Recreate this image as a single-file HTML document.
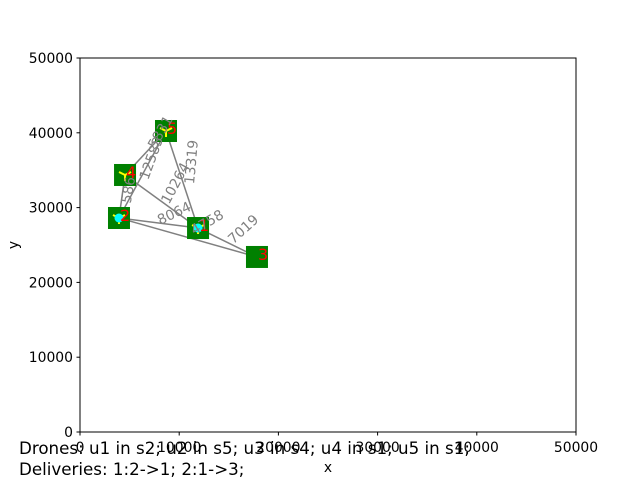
<!DOCTYPE html>
<html><head><meta charset="utf-8"><style>
body{margin:0;background:#fff;}
svg{display:block;font-family:"DejaVu Sans","Liberation Sans",sans-serif;}
</style></head><body>
<svg id="chart" width="640" height="480" viewBox="0 0 640 480">
<rect width="640" height="480" fill="#fff"/>
<g id="edges"></g>
<g id="nodes"></g>
<g id="elabels"></g>
<rect x="80" y="58" width="496" height="374" fill="none" stroke="#000" stroke-width="1"/>
<g id="xticks"></g>
<g id="yticks"></g>
<text x="328" y="472" font-size="13.9" text-anchor="middle">x</text>
<text x="18" y="245" font-size="13.9" text-anchor="middle" transform="rotate(-90 18 245)">y</text>
<text x="19" y="454" font-size="16.7">Drones: u1 in s2; u2 in s5; u3 in s4; u4 in s1; u5 in s1;</text>
<text x="19" y="475" font-size="16.7">Deliveries: 1:2-&gt;1; 2:1-&gt;3;</text>
</svg>
<script>
const nodeIds=[1,2,3,4,5];
const nodeX=[11900,3930,17840,4540,8670];
const nodeY=[27270,28610,23400,34360,40240];
const edgeFrom=[2,4,2,4,5,2,1,2];
const edgeTo=[4,5,5,1,1,1,3,3];
const edgeLabels=["586","5831","12583","10264","13319","8064","4758","7019"];
const ticks=[0,10000,20000,30000,40000,50000];
// label layout (style, not data)
const labelLayout=[[128,190,-80],[160,132,-60],[151,158,-70],[175,183,-62],[191,162,-85],[174,213,-25],[207,222,-30],[243,229,-42]];
const NS="http://www.w3.org/2000/svg";
function sx(v){return 80+v/50000*496;}
function sy(v){return 432-v/50000*374;}
function mk(t,a,p){const e=document.createElementNS(NS,t);for(const k in a)e.setAttribute(k,a[k]);p.appendChild(e);return e;}
function idx(id){return nodeIds.indexOf(id);}
const E=document.getElementById('edges'),L=document.getElementById('elabels'),N=document.getElementById('nodes');
for(let i=0;i<edgeFrom.length;i++){
 const a=idx(edgeFrom[i]),b=idx(edgeTo[i]);
 const x1=sx(nodeX[a]),y1=sy(nodeY[a]),x2=sx(nodeX[b]),y2=sy(nodeY[b]);
 const l=mk('line',{x1:x1,y1:y1,x2:x2,y2:y2,stroke:'#808080','stroke-width':1.5},E);
 
 
 const lay=labelLayout[i];
 const t=mk('text',{x:lay[0],y:lay[1]+5,'font-size':13.9,fill:'#808080','text-anchor':'middle',transform:'rotate('+lay[2]+' '+lay[0]+' '+lay[1]+')'},L);
 t.textContent=edgeLabels[i];
 
 
}
const cyanNodes=[1,2];
const yellowNodes=[1,2,4,5];
for(let i=0;i<nodeIds.length;i++){
 const cx=sx(nodeX[i]),cy=sy(nodeY[i]);
 const g=mk('g',{},N);
 
 
 mk('rect',{x:cx-11,y:cy-11,width:22,height:22,fill:'#008000'},g);
 if(yellowNodes.includes(nodeIds[i])){
  mk('path',{d:'M'+cx+' '+cy+' l0 6 M'+cx+' '+cy+' l-6 -3 M'+cx+' '+cy+' l6 -3',stroke:'#ffff00','stroke-width':2},g);
 }
 if(cyanNodes.includes(nodeIds[i])){
  mk('circle',{cx:cx,cy:cy,r:4.5,fill:'#00ffff'},g);
 }
 const t=mk('text',{x:cx+1,y:cy+3,'font-size':16,fill:'#ff0000'},g);
 t.textContent=nodeIds[i];
}
const X=document.getElementById('xticks'),Y=document.getElementById('yticks');
ticks.forEach(v=>{
 const x=sx(v);
 mk('line',{x1:x,y1:432,x2:x,y2:435.5,stroke:'#000'},X);
 const t=mk('text',{x:x,y:452,'font-size':13.9,'text-anchor':'middle'},X);
 t.textContent=v;
 
 
 const y=sy(v);
 mk('line',{x1:76.5,y1:y,x2:80,y2:y,stroke:'#000'},Y);
 const u=mk('text',{x:73,y:y+5,'font-size':13.9,'text-anchor':'end'},Y);
 u.textContent=v;
 
 
});
</script>
</body></html>
